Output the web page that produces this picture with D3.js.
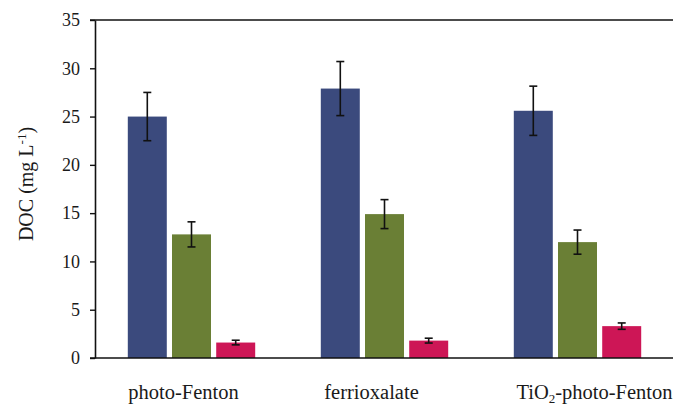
<!DOCTYPE html>
<html>
<head>
<meta charset="utf-8">
<script src="https://cdn.jsdelivr.net/npm/d3@7"></script>
<style>
  html, body { margin: 0; padding: 0; background: #fff; }
  svg { display: block; }
</style>
</head>
<body>
<svg id="chart" width="673" height="405"></svg>
<script>
// ---- data ----
const categories = ["photo-Fenton", "ferrioxalate", "TiO2-photo-Fenton"];
const seriesNames = ["s1", "s2", "s3"];
const series1 = [25.0, 27.9, 25.6];
const series2 = [12.8, 14.9, 12.0];
const series3 = [1.6, 1.8, 3.3];
const errors1 = [2.5, 2.8, 2.55];
const errors2 = [1.3, 1.5, 1.25];
const errors3 = [0.24, 0.25, 0.33];
const yTicks = [0, 5, 10, 15, 20, 25, 30, 35];
const colors = ["#3b4a7d", "#6a7f35", "#cd1656"];
const labelShift = [-8, -13, 17];

const values = [series1, series2, series3];
const errors = [errors1, errors2, errors3];

const FONT = "'Liberation Serif', 'DejaVu Serif', serif";
const svg = d3.select("#chart");
const mLeft = 95, mRight = 674, mTop = 20, mBottom = 358;

const x0 = d3.scaleBand().domain(categories).range([mLeft, mRight]).padding(0);
const x1 = d3.scaleBand().domain(seriesNames).range([0, x0.bandwidth()])
  .paddingInner(0.118).paddingOuter(0.742);
const y = d3.scaleLinear().domain([0, 35]).range([mBottom, mTop]);

// bars
const rows = [];
categories.forEach((c, i) => {
  seriesNames.forEach((s, j) => {
    rows.push({ c, s, j, v: values[j][i], e: errors[j][i] });
  });
});

svg.append("g").selectAll("rect").data(rows).join("rect")
  .attr("x", d => x0(d.c) + x1(d.s))
  .attr("y", d => y(d.v))
  .attr("width", x1.bandwidth())
  .attr("height", d => y(0) - y(d.v))
  .attr("fill", d => colors[d.j]);

// error bars
const eg = svg.append("g").attr("stroke", "#111").attr("stroke-width", 1.6);
rows.forEach(d => {
  const cx = x0(d.c) + x1(d.s) + x1.bandwidth() / 2;
  const cap = 4;
  eg.append("line").attr("x1", cx).attr("x2", cx).attr("y1", y(d.v + d.e)).attr("y2", y(d.v - d.e));
  eg.append("line").attr("x1", cx - cap).attr("x2", cx + cap).attr("y1", y(d.v + d.e)).attr("y2", y(d.v + d.e));
  eg.append("line").attr("x1", cx - cap).attr("x2", cx + cap).attr("y1", y(d.v - d.e)).attr("y2", y(d.v - d.e));
});

// y axis
const yAxis = d3.axisLeft(y).tickValues(yTicks).tickSize(5).tickPadding(10).tickSizeOuter(0);
const ga = svg.append("g").attr("transform", `translate(${mLeft},0)`).call(yAxis)
  .attr("font-family", FONT).attr("font-size", 18);
ga.select(".domain").attr("stroke", "#111").attr("stroke-width", 1.6);
ga.selectAll(".tick line").attr("stroke", "#111").attr("stroke-width", 1.4);
ga.selectAll(".tick text").style("font-family", FONT)
  .style("font-size", "18px").attr("fill", "#1a1a1a");

// x axis line and top border
svg.append("line").attr("x1", mLeft - 5).attr("x2", 673).attr("y1", y(0)).attr("y2", y(0))
  .attr("stroke", "#111").attr("stroke-width", 1.6);
svg.append("line").attr("x1", mLeft - 5).attr("x2", 673).attr("y1", y(35)).attr("y2", y(35))
  .attr("stroke", "#111").attr("stroke-width", 1.6);

// category labels
const lab = svg.append("g").selectAll("text").data(categories).join("text")
  .attr("x", (d, i) => x0(d) + x0.bandwidth() / 2 + labelShift[i])
  .attr("y", 399)
  .attr("text-anchor", "middle")
  .attr("fill", "#1a1a1a")
  .style("font-family", FONT)
  .style("font-size", "20.5px");
lab.each(function (d) {
  const t = d3.select(this);
  if (d.startsWith("TiO2")) {
    t.append("tspan").text("TiO");
    t.append("tspan").text("2").attr("dy", 4).style("font-size", "13px");
    t.append("tspan").text(d.slice(4)).attr("dy", -4);
  } else {
    t.text(d);
  }
});

// y title
const yt = svg.append("text")
  .attr("transform", `translate(33,184) rotate(-90)`)
  .attr("text-anchor", "middle")
  .attr("fill", "#1a1a1a")
  .style("font-family", FONT)
  .style("font-size", "20px");
yt.append("tspan").text("DOC (mg L");
yt.append("tspan").text("-1").attr("dy", -7).style("font-size", "13px");
yt.append("tspan").text(")").attr("dy", 7);
</script>
</body>
</html>
